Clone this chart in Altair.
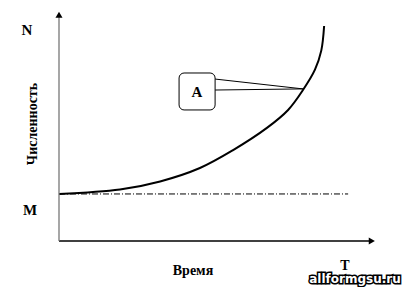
import altair as alt
import pandas as pd

# curve: time vs population (arbitrary units, 0..100)
curve_t = [0, 19.3, 32.0, 44.6, 55.1, 65.8, 72.5, 77.2, 81.0, 83.0, 83.9]
curve_n = [21.0, 23.0, 26.6, 32.6, 40.6, 50.5, 58.5, 67.4, 76.5, 85.0, 96.0]

m_level = 21.0
m_line_t = [0, 91.5]

x_axis_t = [0, 99]
y_axis_n = [0, 101]

# callout box and pointer
box_t = [38.0, 49.4]
box_n = [58.5, 75.0]
pointer_start_t = [49.4, 49.4]
pointer_start_n = [72.3, 67.4]
pointer_end = (77.2, 67.9)

XD = [-18.67, 109.18]
YD = [-20.54, 107.59]
W, H = 404, 287

xs = alt.Scale(domain=XD, nice=False, zero=False)
ys = alt.Scale(domain=YD, nice=False, zero=False)
X = lambda f: alt.X(f, type="quantitative", scale=xs, axis=None)
Y = lambda f: alt.Y(f, type="quantitative", scale=ys, axis=None)

curve_df = pd.DataFrame({"t": curve_t, "n": curve_n})
curve = alt.Chart(curve_df).mark_line(color="black", strokeWidth=2, interpolate="catmull-rom", clip=False).encode(
    x=X("t"), y=Y("n"))

mline = alt.Chart(pd.DataFrame({"t": m_line_t, "n": [m_level] * 2})).mark_line(
    color="black", strokeWidth=1, strokeDash=[6, 2, 1, 2]).encode(x=X("t"), y=Y("n"))

xaxis = alt.Chart(pd.DataFrame({"t": x_axis_t, "n": [0, 0]})).mark_line(color="black", strokeWidth=1.3).encode(
    x=X("t"), y=Y("n"))
yaxis = alt.Chart(pd.DataFrame({"t": [0, 0], "n": y_axis_n})).mark_line(color="#777777", strokeWidth=1.3).encode(
    x=X("t"), y=Y("n"))

xarrow = alt.Chart(pd.DataFrame({"t": [x_axis_t[1]], "n": [0]})).mark_point(
    shape="triangle-right", filled=True, color="black", size=50, opacity=1).encode(x=X("t"), y=Y("n"))
yarrow = alt.Chart(pd.DataFrame({"t": [0], "n": [y_axis_n[1]]})).mark_point(
    shape="triangle-up", filled=True, color="black", size=50, opacity=1).encode(x=X("t"), y=Y("n"))

pointer_df = pd.DataFrame({
    "t": [pointer_start_t[0], pointer_end[0], pointer_start_t[1], pointer_end[0]],
    "n": [pointer_start_n[0], pointer_end[1], pointer_start_n[1], pointer_end[1]],
    "g": ["a", "a", "b", "b"]})
pointer = alt.Chart(pointer_df).mark_line(color="black", strokeWidth=1).encode(
    x=X("t"), y=Y("n"), detail="g:N")

box = alt.Chart(pd.DataFrame({"t1": [box_t[0]], "t2": [box_t[1]], "n1": [box_n[0]], "n2": [box_n[1]]})).mark_rect(
    fill="white", stroke="black", strokeWidth=1, cornerRadius=5).encode(
    x=X("t1"), x2="t2", y=Y("n1"), y2="n2")

font = "Liberation Serif"

def label(txt, x, y, size=14, angle=0):
    kw = dict(text=txt, font=font, fontWeight="bold", fontSize=size, color="black",
              align="center", baseline="middle")
    if angle:
        kw["angle"] = angle
    return alt.Chart(pd.DataFrame({"a": [0]})).mark_text(**kw).encode(x=alt.value(x), y=alt.value(y))

labels = [
    label("A", 197, 92, 15),
    label("N", 27, 30, 15),
    label("M", 30, 210, 15),
    label("Численность", 33, 124, 14, 270),
    label("Время", 193, 271, 14),
    label("T", 345, 266, 14),
]

wm_kw = dict(text="allformgsu.ru", font="DejaVu Sans", fontWeight="bold", fontSize=12,
             align="center", baseline="middle")
wm1 = alt.Chart(pd.DataFrame({"a": [0]})).mark_text(stroke="black", strokeWidth=3, fill="black", **wm_kw).encode(
    x=alt.value(355), y=alt.value(279))
wm2 = alt.Chart(pd.DataFrame({"a": [0]})).mark_text(fill="white", **wm_kw).encode(
    x=alt.value(355), y=alt.value(279))

chart = alt.layer(mline, curve, xaxis, yaxis, xarrow, yarrow, pointer, box, *labels, wm1, wm2).properties(
    width=W, height=H, padding=0, autosize=alt.AutoSizeParams(type="none"),
    background="white").configure_view(stroke=None)

chart.save("out.html", embed_options={"renderer": "svg", "actions": False})
